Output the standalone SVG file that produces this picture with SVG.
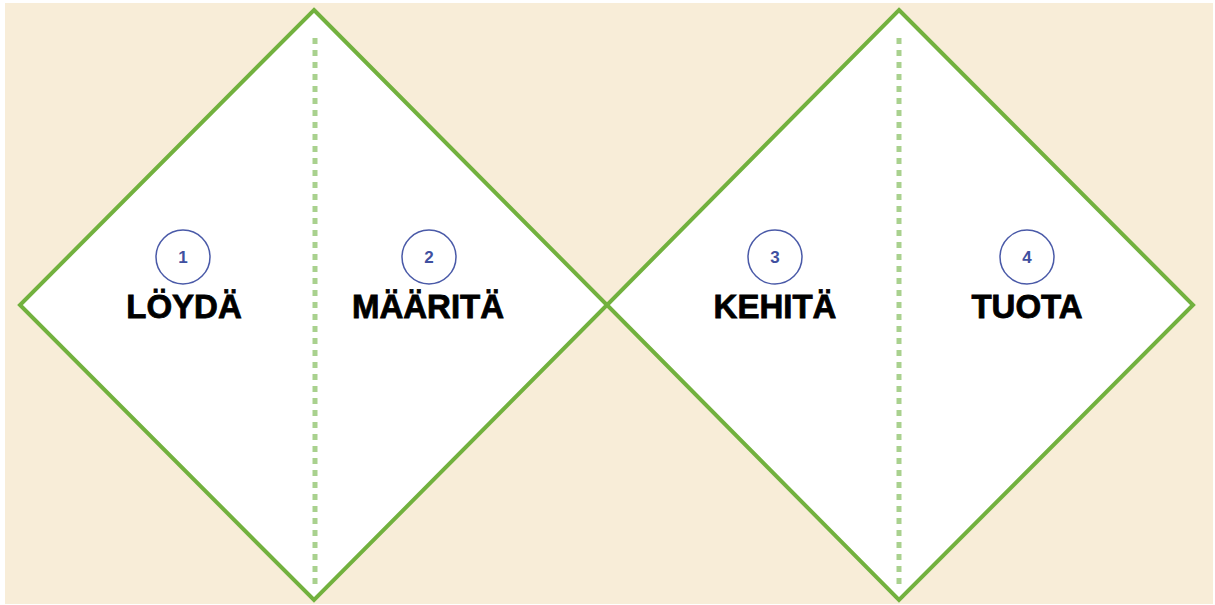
<svg xmlns="http://www.w3.org/2000/svg" width="1215" height="605" viewBox="0 0 1215 605">
<style>
.dia{fill:#ffffff;stroke:#72B13E;stroke-width:4;stroke-linejoin:miter}
.dot{stroke:#A9D18E;stroke-width:5;stroke-dasharray:6 6}
.num{fill:none;stroke:#4A5AA8;stroke-width:1.5}
.nt{font-family:"Liberation Sans",Arial,sans-serif;font-weight:bold;font-size:17px;fill:#4050A0;text-anchor:middle}
.lbl{font-family:"Liberation Sans",Arial,sans-serif;font-weight:900;font-size:33px;fill:#000;text-anchor:middle;stroke:#000;stroke-width:0.8}
</style>
<rect x="0" y="0" width="1215" height="605" fill="#ffffff"/>
<rect x="5" y="3" width="1208" height="601" fill="#F8EDD8"/>
<g id="diamond-left">
<polygon class="dia" points="314,10 607,305 314,600 20,305"/>
<line class="dot" x1="315" y1="38" x2="315" y2="584"/>
</g>
<g id="diamond-right">
<polygon class="dia" points="899,10 1193,305 899,600 607,305"/>
<line class="dot" x1="899" y1="38" x2="899" y2="584"/>
</g>
<g id="step1">
<circle class="num" cx="183" cy="257" r="27"/>
<text class="nt" x="183" y="263">1</text>
<text class="lbl" x="184" y="318">LÖYDÄ</text>
</g>
<g id="step2">
<circle class="num" cx="429" cy="257" r="27"/>
<text class="nt" x="429" y="263">2</text>
<text class="lbl" x="428" y="318">MÄÄRITÄ</text>
</g>
<g id="step3">
<circle class="num" cx="775" cy="257" r="27"/>
<text class="nt" x="775" y="263">3</text>
<text class="lbl" x="775" y="318">KEHITÄ</text>
</g>
<g id="step4">
<circle class="num" cx="1027" cy="257" r="27"/>
<text class="nt" x="1027" y="263">4</text>
<text class="lbl" x="1027" y="318">TUOTA</text>
</g>
</svg>
